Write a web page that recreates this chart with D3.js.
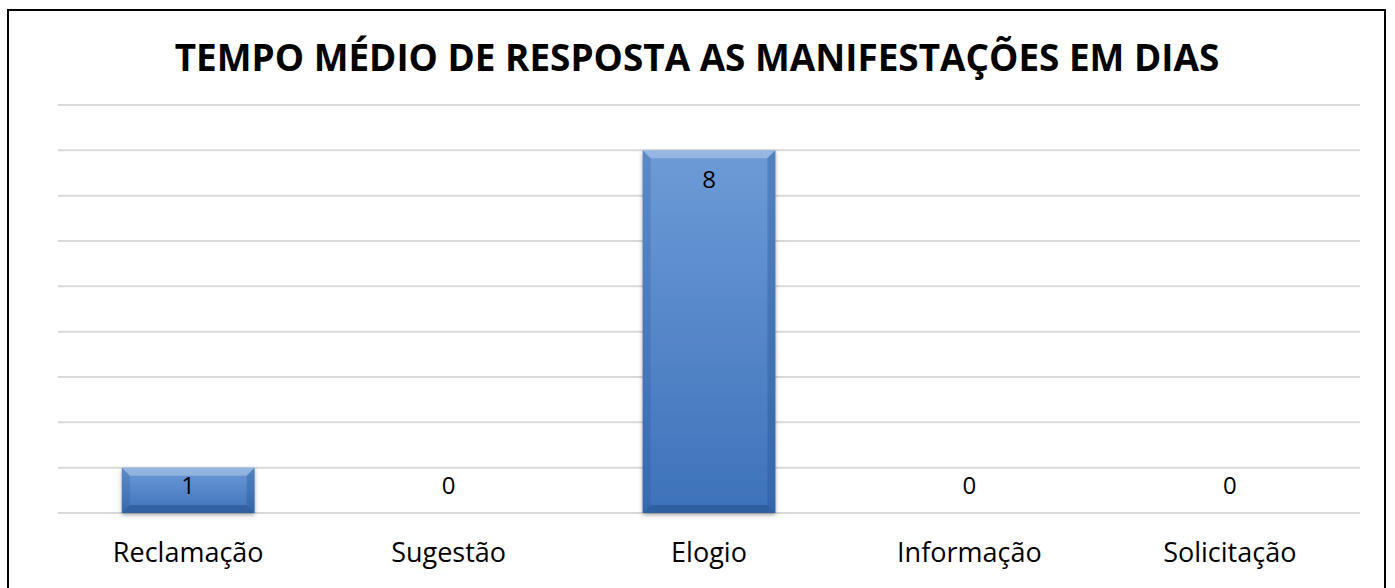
<!DOCTYPE html>
<html>
<head>
<meta charset="utf-8">
<script src="https://cdn.jsdelivr.net/npm/d3@7"></script>
<style>
  body { margin: 0; background: #fff; }
  svg { display: block; }
</style>
</head>
<body>
<script>
"use strict";

var categories = ["Reclamação", "Sugestão", "Elogio", "Informação", "Solicitação"];
var values = [1, 0, 8, 0, 0];
var yTicks = [0, 1, 2, 3, 4, 5, 6, 7, 8, 9];
var title = "TEMPO MÉDIO DE RESPOSTA AS MANIFESTAÇÕES EM DIAS";

var width = 1395, height = 588;
var plotLeft = 58, plotRight = 1360, plotTop = 105, plotBottom = 513;

var svg = d3.select("body").append("svg")
    .attr("width", width)
    .attr("height", height);

var defs = svg.append("defs");
var grad = defs.append("linearGradient")
    .attr("id", "barGrad")
    .attr("x1", 0).attr("y1", 0).attr("x2", 0).attr("y2", 1);
grad.append("stop").attr("offset", "0%").attr("stop-color", "#6d9bd7");
grad.append("stop").attr("offset", "100%").attr("stop-color", "#3d72ba");

var shadow = defs.append("filter").attr("id", "shadow")
    .attr("x", "-10%").attr("y", "-10%").attr("width", "120%").attr("height", "130%");
shadow.append("feDropShadow")
    .attr("dx", 0).attr("dy", 2).attr("stdDeviation", 2)
    .attr("flood-color", "#000").attr("flood-opacity", 0.35);

// outer frame
svg.append("rect")
    .attr("x", 8).attr("y", 10)
    .attr("width", 1377).attr("height", 600)
    .attr("fill", "none")
    .attr("stroke", "#000")
    .attr("stroke-width", 2);

var x = d3.scaleBand()
    .domain(categories)
    .range([plotLeft, plotRight])
    .paddingInner(0.49)
    .paddingOuter(0.245);

var y = d3.scaleLinear()
    .domain([0, 9])
    .range([plotBottom, plotTop]);

// gridlines
svg.append("g")
    .selectAll("line")
    .data(yTicks)
    .enter().append("line")
        .attr("x1", plotLeft).attr("x2", plotRight)
        .attr("y1", function(d){ return y(d); })
        .attr("y2", function(d){ return y(d); })
        .attr("stroke", "#d9d9d9")
        .attr("stroke-width", 2);

// bars
var bars = svg.append("g")
    .selectAll("g")
    .data(categories.map(function(c, i){ return {cat: c, val: values[i]}; }))
    .enter().append("g")
        .filter(function(d){ return d.val > 0; });

bars.append("rect")
    .attr("x", function(d){ return x(d.cat); })
    .attr("y", function(d){ return y(d.val); })
    .attr("width", x.bandwidth())
    .attr("height", function(d){ return y(0) - y(d.val); })
    .attr("fill", "url(#barGrad)")
    .attr("filter", "url(#shadow)");

// bevel edges
var bev = 8;
function bevel(d, side){
  var x0 = x(d.cat), x1 = x0 + x.bandwidth(), y0 = y(d.val), y1 = y(0);
  if (side === "top") return [[x0,y0],[x1,y0],[x1-bev,y0+bev],[x0+bev,y0+bev]];
  if (side === "left") return [[x0,y0],[x0+bev,y0+bev],[x0+bev,y1-bev],[x0,y1]];
  if (side === "right") return [[x1,y0],[x1,y1],[x1-bev,y1-bev],[x1-bev,y0+bev]];
  return [[x0,y1],[x0+bev,y1-bev],[x1-bev,y1-bev],[x1,y1]];
}
var bevelStyle = {
  top: ["#ffffff", 0.28],
  left: ["#1f4f8f", 0.22],
  right: ["#1f4f8f", 0.32],
  bottom: ["#17406f", 0.35]
};
["top", "left", "right", "bottom"].forEach(function(side){
  bars.append("polygon")
      .attr("points", function(d){ return bevel(d, side).map(function(p){ return p.join(","); }).join(" "); })
      .attr("fill", bevelStyle[side][0])
      .attr("fill-opacity", bevelStyle[side][1]);
});

// value labels
svg.append("g")
    .selectAll("text")
    .data(values)
    .enter().append("text")
        .attr("x", function(d, i){ return x(categories[i]) + x.bandwidth() / 2; })
        .attr("y", function(d){ return Math.min(y(d) + 29, y(0) - 27); })
        .attr("dy", "0.35em")
        .attr("text-anchor", "middle")
        .style("font-family", "'Open Sans', sans-serif")
        .style("font-size", "24px")
        .style("fill", "#000")
        .text(function(d){ return d; });

// category labels
svg.append("g")
    .selectAll("text")
    .data(categories)
    .enter().append("text")
        .attr("x", function(d){ return x(d) + x.bandwidth() / 2; })
        .attr("y", 553)
        .attr("dy", "0.35em")
        .attr("text-anchor", "middle")
        .style("font-family", "'Open Sans', sans-serif")
        .style("font-size", "27px")
        .style("fill", "#000")
        .text(function(d){ return d; });

// title
var t = svg.append("text")
    .attr("x", 697)
    .attr("y", 71)
    .attr("text-anchor", "middle")
    .style("font-family", "'Open Sans', sans-serif")
    .style("font-weight", "bold")
    .style("font-size", "36px")
    .style("fill", "#000")
    .text(title);
var tw = t.node().getComputedTextLength();
t.style("font-size", (36 * 1045 / tw) + "px");
</script>
</body>
</html>
